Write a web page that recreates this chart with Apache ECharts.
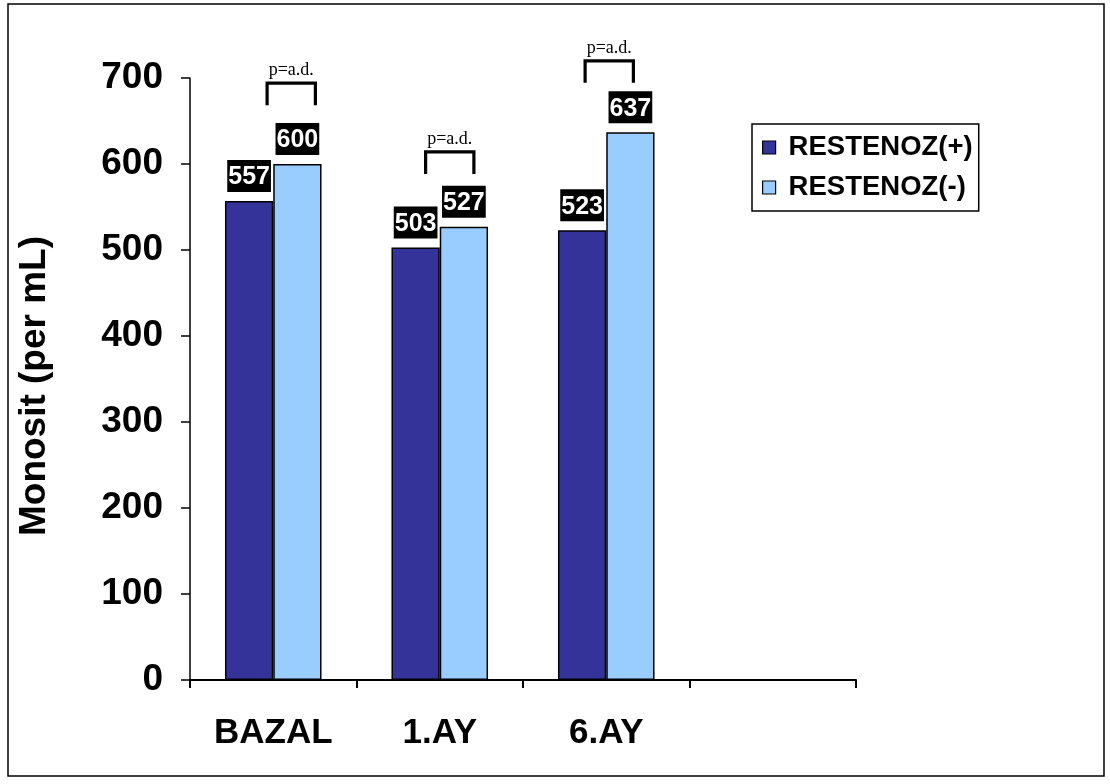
<!DOCTYPE html>
<html>
<head>
<meta charset="utf-8">
<script src="https://cdn.jsdelivr.net/npm/echarts@6/dist/echarts.min.js"></script>
<style>
  html, body { margin: 0; padding: 0; background: #fff; }
  #chart { width: 1110px; height: 784px; }
</style>
</head>
<body>
<div id="chart"></div>
<script>
// Monocyte counts by visit and restenosis group
const categories = ['BAZAL', '1.AY', '6.AY', ''];
const restenozPos = [557, 503, 523];
const restenozNeg = [600, 527, 637];
const yTicks = [0, 100, 200, 300, 400, 500, 600, 700];

// Significance brackets: category index and the value level of the bracket top
const bracketCategory = [0, 1, 2];
const bracketTop = [694, 614, 720];
const bracketText = ['p=a.d.', 'p=a.d.', 'p=a.d.'];

// Horizontal nudge of each bracket (px) and leg length (px)
const bracketShift = [18, 10, 3];
const bracketLeg = 22;

const FONT = '"Liberation Sans", Arial, sans-serif';
const SERIF = '"Liberation Serif", "Times New Roman", serif';

const chart = echarts.init(document.getElementById('chart'), null, { renderer: 'canvas' });

const valueLabel = {
  show: true,
  position: 'top',
  distance: 9,
  color: '#fff',
  backgroundColor: '#000',
  fontFamily: FONT,
  fontWeight: 'bold',
  fontSize: 25,
  lineHeight: 27,
  padding: [4, 1, 1, 1]
};

chart.setOption({
  animation: false,
  backgroundColor: '#fff',
  graphic: [{
    type: 'rect',
    shape: { x: 8, y: 4, width: 1096, height: 772 },
    style: { fill: 'none', stroke: '#000', lineWidth: 1.5 },
    silent: true
  }],
  grid: { left: 190, right: 254, top: 78, bottom: 104, containLabel: false },
  legend: {
    orient: 'vertical',
    left: 752,
    top: 124,
    data: ['RESTENOZ(+)', 'RESTENOZ(-)'],
    icon: 'rect',
    itemWidth: 13,
    itemHeight: 13,
    itemGap: 9,
    padding: [8, 6, 8, 10],
    borderColor: '#000',
    borderWidth: 1.5,
    textStyle: {
      fontFamily: FONT, fontWeight: 'bold', fontSize: 27.5, color: '#000',
      lineHeight: 31, padding: [0, 0, 0, 8]
    },
    itemStyle: { borderColor: '#000', borderWidth: 1.2 }
  },
  xAxis: {
    type: 'category',
    data: categories,
    axisLine: { lineStyle: { color: '#000', width: 2 } },
    axisTick: { show: true, length: 8, lineStyle: { color: '#000', width: 2 } },
    axisLabel: { color: '#000', fontFamily: FONT, fontWeight: 'bold', fontSize: 35, margin: 36 },
    splitLine: { show: false }
  },
  yAxis: {
    type: 'value',
    min: 0,
    max: 700,
    interval: 100,
    name: 'Monosit (per mL)',
    nameLocation: 'middle',
    nameGap: 137,
    nameTextStyle: {
      color: '#000', fontFamily: FONT, fontWeight: 'bold', fontSize: 37,
      padding: [0, 14, 0, 0]
    },
    axisLine: { show: true, lineStyle: { color: '#000', width: 1.5 } },
    axisTick: { show: true, length: 9, lineStyle: { color: '#000', width: 1.5 } },
    axisLabel: {
      color: '#000', fontFamily: FONT, fontWeight: 'bold', fontSize: 37, margin: 27,
      formatter: v => (yTicks.indexOf(v) >= 0 ? String(v) : '')
    },
    splitLine: { show: false }
  },
  series: [
    {
      name: 'RESTENOZ(+)',
      type: 'bar',
      data: restenozPos,
      barWidth: '29%',
      barGap: '0%',
      itemStyle: { color: '#333399', borderColor: '#000', borderWidth: 1.5 },
      label: valueLabel
    },
    {
      name: 'RESTENOZ(-)',
      type: 'bar',
      data: restenozNeg,
      barWidth: '29%',
      barGap: '0%',
      itemStyle: { color: '#99CCFF', borderColor: '#000', borderWidth: 1.5 },
      label: valueLabel
    },
    {
      name: 'brackets',
      type: 'custom',
      clip: false,
      silent: true,
      data: bracketCategory.map((c, i) => [c, bracketTop[i]]),
      encode: { x: 0, y: 1 },
      renderItem: function (params, api) {
        const i = params.dataIndex;
        const top = api.coord([api.value(0), api.value(1)]);
        const band = api.size([1, 0])[0];
        const half = band * 0.29 / 2;
        const cx = top[0] + bracketShift[i];
        const x0 = cx - half, x1 = cx + half, y0 = top[1];
        return {
          type: 'group',
          children: [
            {
              type: 'polyline',
              shape: { points: [[x0, y0 + bracketLeg], [x0, y0], [x1, y0], [x1, y0 + bracketLeg]] },
              style: { fill: 'none', stroke: '#000', lineWidth: 3.2, lineJoin: 'miter' }
            },
            {
              type: 'text',
              style: {
                x: cx, y: y0 - 4,
                text: bracketText[i],
                fill: '#000',
                font: '18px ' + SERIF,
                textAlign: 'center',
                textVerticalAlign: 'bottom'
              }
            }
          ]
        };
      }
    }
  ]
});
</script>
</body>
</html>
